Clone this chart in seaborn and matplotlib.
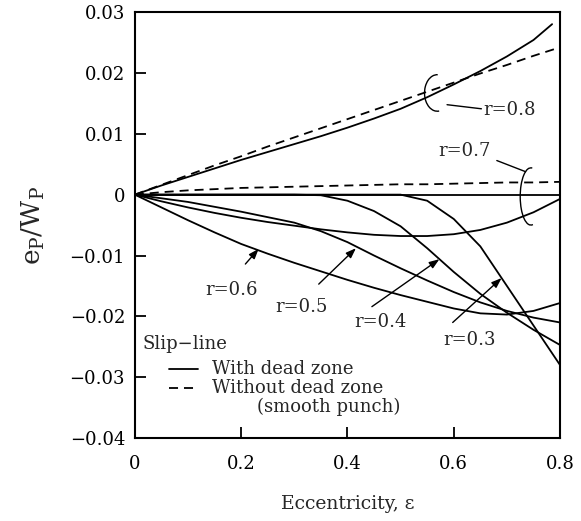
import numpy as np
import pandas as pd
import seaborn as sns
import matplotlib.pyplot as plt
from matplotlib.patches import Arc

# eccentricity grid used by most curves
ecc = [0, 0.05, 0.1, 0.15, 0.2, 0.25, 0.3, 0.35, 0.4, 0.45, 0.5, 0.55, 0.6, 0.65, 0.7, 0.75, 0.8]

# with dead zone (solid)
ecc_r08 = [0, 0.05, 0.1, 0.15, 0.2, 0.25, 0.3, 0.35, 0.4, 0.45, 0.5, 0.55, 0.6, 0.65, 0.7, 0.75, 0.785]
r08_with = [0, 0.0015, 0.0029, 0.0043, 0.0057, 0.0070, 0.0083, 0.0096, 0.0110, 0.0125, 0.0141,
            0.0160, 0.0181, 0.0203, 0.0227, 0.0254, 0.0280]
r07_with = [0, -0.0011, -0.0021, -0.0030, -0.0038, -0.0045, -0.0051, -0.0057, -0.0062, -0.0066,
            -0.0068, -0.0068, -0.0065, -0.0058, -0.0046, -0.0029, -0.0007]
r06_with = [0, -0.0021, -0.0042, -0.0062, -0.0081, -0.0097, -0.0112, -0.0126, -0.0140, -0.0153,
            -0.0165, -0.0176, -0.0187, -0.0195, -0.0197, -0.0191, -0.0178]
r05_with = [0, -0.0006, -0.0012, -0.0020, -0.0028, -0.0037, -0.0046, -0.0060, -0.0078, -0.0100,
            -0.0121, -0.0141, -0.0160, -0.0177, -0.0191, -0.0202, -0.0210]
r04_with = [0, 0, 0, 0, 0, 0, 0, -0.0001, -0.0010, -0.0027, -0.0052, -0.0088, -0.0127, -0.0163,
            -0.0194, -0.0222, -0.0247]
r03_with = [0, 0, 0, 0, 0, 0, 0, 0, 0, 0, 0, -0.0010, -0.0040, -0.0085, -0.0150, -0.0215, -0.0280]

# without dead zone, smooth punch (dashed)
r08_without = [0, 0.0016, 0.0032, 0.0048, 0.0063, 0.0079, 0.0094, 0.0109, 0.0124, 0.0139, 0.0154,
               0.0169, 0.0184, 0.0199, 0.0213, 0.0228, 0.0242]
r07_without = [0, 0.0004, 0.0007, 0.0009, 0.0011, 0.0012, 0.0013, 0.0014, 0.0015, 0.0016, 0.0017,
               0.0017, 0.0018, 0.0019, 0.0020, 0.0020, 0.0021]

yticks = [0.03, 0.02, 0.01, 0, -0.01, -0.02, -0.03, -0.04]
ytick_labels = ['0.03', '0.02', '0.01', '0', '\u22120.01', '\u22120.02', '\u22120.03', '\u22120.04']
xticks = [0, 0.2, 0.4, 0.6, 0.8]
xtick_labels = ['0', '0.2', '0.4', '0.6', '0.8']

frames = []
for name, xs, ys, zone in [
    ('r08w', ecc_r08, r08_with, 'with'),
    ('r07w', ecc, r07_with, 'with'),
    ('r06w', ecc, r06_with, 'with'),
    ('r05w', ecc, r05_with, 'with'),
    ('r04w', ecc, r04_with, 'with'),
    ('r03w', ecc, r03_with, 'with'),
    ('r08s', ecc, r08_without, 'without'),
    ('r07s', ecc, r07_without, 'without'),
]:
    frames.append(pd.DataFrame({'ecc': xs, 'val': ys, 'curve': name, 'zone': zone}))
df = pd.concat(frames, ignore_index=True)

sns.set_style('ticks')
plt.rcParams['font.family'] = ['DejaVu Serif']
plt.rcParams['mathtext.fontset'] = 'dejavuserif'

fig = plt.figure(figsize=(5.81, 5.21), dpi=100)
ax = fig.add_axes([0.232, 0.159, 0.732, 0.818])

sns.lineplot(data=df, x='ecc', y='val', units='curve', estimator=None, style='zone',
             dashes={'with': '', 'without': (5, 3.3)}, color='k', linewidth=1.3,
             legend=False, ax=ax)
ax.axhline(0, color='k', lw=1.3)

ax.set_xlim(0, 0.8)
ax.set_ylim(-0.04, 0.03)
ax.set_xticks(xticks)
ax.set_xticklabels(xtick_labels)
ax.set_yticks(yticks)
ax.set_yticklabels(ytick_labels)
ax.tick_params(direction='in', length=8, width=1.3, labelsize=13, colors='k')
ax.tick_params(axis='x', pad=12)
ax.tick_params(axis='y', pad=7)
for s in ax.spines.values():
    s.set_linewidth(1.5)
    s.set_color('k')

ax.set_xlabel('Eccentricity, \u03b5', fontsize=13.5, labelpad=16)
ax.set_ylabel(r'e$_\mathregular{P}$/W$_\mathregular{P}$', fontsize=19, labelpad=16)

fs = 13
# r=0.8 bracket
cx, cy, w, h = 0.569, 0.0167, 0.048, 0.0060
ax.add_patch(Arc((cx, cy), w, h, theta1=75, theta2=320, color='k', lw=1))
ex = cx + w / 2 * np.cos(np.radians(320))
ey = cy + h / 2 * np.sin(np.radians(320))
ax.plot([ex, 0.652], [ey, 0.0141], color='k', lw=1)
ax.text(0.655, 0.0139, 'r=0.8', fontsize=fs, ha='left', va='center')

# r=0.7 bracket
cx, cy, w, h = 0.745, -0.0003, 0.040, 0.0094
ax.add_patch(Arc((cx, cy), w, h, theta1=60, theta2=310, color='k', lw=1))
sx = cx + w / 2 * np.cos(np.radians(120))
sy = cy + h / 2 * np.sin(np.radians(120))
ax.plot([0.681, sx], [0.0056, sy], color='k', lw=1)
ax.text(0.62, 0.0071, 'r=0.7', fontsize=fs, ha='center', va='center')

arrow = dict(arrowstyle='-|>,head_length=0.6,head_width=0.22', color='k', lw=1,
             shrinkA=0, shrinkB=0)
for label, tip, tail, pos in [
    ('r=0.6', (0.233, -0.0089), (0.208, -0.0114), (0.182, -0.0156)),
    ('r=0.5', (0.416, -0.0088), (0.346, -0.0147), (0.314, -0.0184)),
    ('r=0.4', (0.573, -0.0106), (0.446, -0.0184), (0.463, -0.0210)),
    ('r=0.3', (0.69, -0.0137), (0.598, -0.0210), (0.63, -0.0238)),
]:
    ax.annotate('', xy=tip, xytext=tail, arrowprops=arrow)
    ax.text(pos[0], pos[1], label, fontsize=fs, ha='center', va='center')

# legend drawn by hand
ax.text(0.019, 0.220, 'Slip\u2212line', fontsize=fs, ha='left', va='center', transform=ax.transAxes)
ax.plot([0.080, 0.148], [0.163, 0.163], color='k', lw=1.3, transform=ax.transAxes)
ax.text(0.181, 0.163, 'With dead zone', fontsize=fs, ha='left', va='center', transform=ax.transAxes)
ax.plot([0.080, 0.148], [0.118, 0.118], color='k', lw=1.3, ls=(0, (5, 3.3)), transform=ax.transAxes)
ax.text(0.181, 0.118, 'Without dead zone', fontsize=fs, ha='left', va='center', transform=ax.transAxes)
ax.text(0.287, 0.074, '(smooth punch)', fontsize=fs, ha='left', va='center', transform=ax.transAxes)

fig.savefig('out.png', dpi=100)
